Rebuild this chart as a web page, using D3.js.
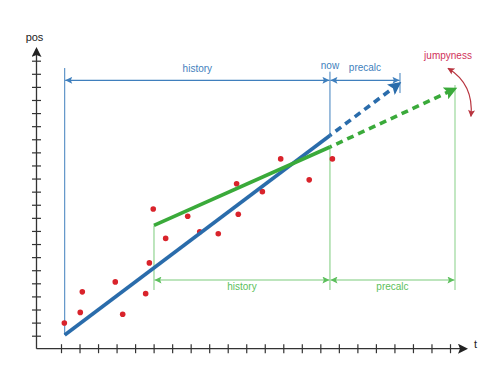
<!DOCTYPE html>
<html><head><meta charset="utf-8">
<script src="https://cdn.jsdelivr.net/npm/d3@7"></script>
<style>body{margin:0;background:#fff;}svg{display:block;font-family:"Liberation Sans",Arial,sans-serif;}</style>
</head><body><svg id="c" width="500" height="378"></svg>
<script>
// ---- data (in axis tick units) ----
const tickCount = 22;
const pointsT = [0.18,1.04,1.15,2.93,3.33,4.57,4.77,4.98,5.65,6.84,7.49,8.49,9.48,9.57,10.87,11.86,13.4,14.65];
const pointsP = [0.97,1.78,3.35,4.11,1.64,3.21,5.56,9.67,7.43,9.12,7.94,7.79,11.6,9.27,11.0,13.5,11.9,13.5];
const tHistStart = 0.2, tNow = 14.52, tBlueEnd = 18.3, tGreenStart = 5.02, tGreenEnd = 21.27;
const blueFit = [[0.2,0.05],[14.52,15.29]];
const blueForecast = [[14.52,15.29],[18.2,19.2]];
const greenFit = [[5.02,8.42],[14.52,14.41]];
const greenForecast = [[14.52,14.41],[21.2,18.8]];
const blueDimP = 19.5, greenDimP = 4.25, greenBaseP = 3.49;
const labels = {axisY:"pos", axisX:"t", history:"history", now:"now", precalc:"precalc", jump:"jumpyness"};
const jumpArc = [[21.27,20.5],[22.3,19.2],[22.13,16.75]];

// ---- scales ----
const x = d3.scaleLinear().domain([0,21]).range([61,450]);
const y = d3.scaleLinear().domain([0,21]).range([335.7,60.7]);
const svg = d3.select("#c");
const X0 = 36.5, Y0 = 348.7;

const defs = svg.append("defs");
function marker(id,color,w,h,refX){
  defs.append("marker").attr("id",id).attr("viewBox","0 0 10 10").attr("refX",refX).attr("refY",5)
    .attr("markerWidth",w).attr("markerHeight",h).attr("markerUnits","userSpaceOnUse").attr("orient","auto-start-reverse")
    .append("path").attr("d","M0,0 L10,5 L0,10 L2,5 Z").attr("fill",color);
}
marker("axArrow","#222",13,10,8);
marker("blueSmall","#3f7fbd",8,7,10);
marker("greenSmall","#5cbf5c",8,7,10);
marker("blueBig","#2a6cab",14,13,7);
marker("greenBig","#3aaa3a",14,13,7);
marker("redSmall","#b8343f",8,7,9);

// ---- axes ----
svg.append("line").attr("x1",X0).attr("x2",466).attr("y1",Y0).attr("y2",Y0)
  .attr("stroke","#333").attr("stroke-width",1.3).attr("marker-end","url(#axArrow)");
svg.append("line").attr("x1",X0).attr("x2",X0).attr("y1",Y0).attr("y2",49)
  .attr("stroke","#333").attr("stroke-width",1.3).attr("marker-end","url(#axArrow)");
const xa = svg.append("g").attr("transform",`translate(0,${Y0})`)
  .call(d3.axisBottom(x).tickValues(d3.range(tickCount)).tickSize(9).tickFormat(""));
xa.select(".domain").remove();
xa.selectAll(".tick line").attr("y1",-4.5).attr("y2",4.5).attr("stroke","#333").attr("stroke-width",1.2);
const ya = svg.append("g").attr("transform",`translate(${X0},0)`)
  .call(d3.axisLeft(y).tickValues(d3.range(tickCount)).tickSize(9).tickFormat(""));
ya.select(".domain").remove();
ya.selectAll(".tick line").attr("x1",-4.5).attr("x2",4.5).attr("stroke","#333").attr("stroke-width",1.2);
svg.append("text").attr("x",X0-2).attr("y",41).attr("text-anchor","middle").attr("font-size",11).attr("fill","#222").text(labels.axisY);
svg.append("text").attr("x",474).attr("y",348).attr("text-anchor","start").attr("font-size",11).attr("fill","#222").text(labels.axisX);

// ---- blue annotations ----
const blueA = "#3f7fbd", greenA = "#7ccb7c";
function vline(t,p1,p2,c,w){svg.append("line").attr("x1",x(t)).attr("x2",x(t)).attr("y1",y(p1)).attr("y2",y(p2)).attr("stroke",c).attr("stroke-width",w||1);}
function dim(t1,t2,p,c,m){svg.append("line").attr("x1",x(t1)+0.5).attr("x2",x(t2)-0.5).attr("y1",y(p)).attr("y2",y(p)).attr("stroke",c).attr("stroke-width",1.1)
  .attr("marker-start",`url(#${m})`).attr("marker-end",`url(#${m})`);}
vline(tHistStart,20.44,blueFit[0][1],blueA);
vline(tNow,20.16,blueFit[1][1],blueA);
vline(tBlueEnd,20.06,18.53,blueA);
dim(tHistStart,tNow,blueDimP,blueA,"blueSmall");
dim(tNow,tBlueEnd,blueDimP,blueA,"blueSmall");
svg.append("text").attr("x",(x(tHistStart)+x(tNow))/2).attr("y",y(blueDimP)-8).attr("text-anchor","middle").attr("font-size",10).attr("fill",blueA).text(labels.history);
svg.append("text").attr("x",x(tNow)).attr("y",y(blueDimP)-11.5).attr("text-anchor","middle").attr("font-size",10).attr("fill",blueA).text(labels.now);
svg.append("text").attr("x",(x(tNow)+x(tBlueEnd))/2).attr("y",y(blueDimP)-9).attr("text-anchor","middle").attr("font-size",10).attr("fill",blueA).text(labels.precalc);

// ---- green annotations ----
vline(tGreenStart,greenFit[0][1],greenBaseP,greenA);
vline(tNow,greenFit[1][1],greenBaseP,greenA);
vline(tGreenEnd,19.14,greenBaseP,"#9bd89b",1.2);
dim(tGreenStart,tNow,greenDimP,greenA,"greenSmall");
dim(tNow,tGreenEnd,greenDimP,greenA,"greenSmall");
svg.append("text").attr("x",(x(tGreenStart)+x(tNow))/2).attr("y",y(greenDimP)+10).attr("text-anchor","middle").attr("font-size",10).attr("fill","#5cbf5c").text(labels.history);
svg.append("text").attr("x",(x(tNow)+x(tGreenEnd))/2).attr("y",y(greenDimP)+9.5).attr("text-anchor","middle").attr("font-size",10).attr("fill","#5cbf5c").text(labels.precalc);

// ---- points ----
svg.append("g").selectAll("circle").data(pointsT).join("circle")
  .attr("cx",(d)=>x(d)).attr("cy",(d,i)=>y(pointsP[i])).attr("r",2.8).attr("fill","#d9232b");

// ---- fits ----
const dashPat = "2 5 " + d3.range(20).map(()=> "7 5").join(" ");
const ln = d3.line().x(d=>x(d[0])).y(d=>y(d[1]));
svg.append("path").attr("d",ln(blueFit)).attr("stroke","#2a6cab").attr("stroke-width",3.6).attr("fill","none");
svg.append("path").attr("d",ln(greenFit)).attr("stroke","#3aaa3a").attr("stroke-width",3.6).attr("fill","none");
svg.append("path").attr("d",ln(blueForecast)).attr("stroke","#2a6cab").attr("stroke-width",3.6).attr("fill","none")
  .attr("stroke-dasharray",dashPat).attr("marker-end","url(#blueBig)");
svg.append("path").attr("d",ln(greenForecast)).attr("stroke","#3aaa3a").attr("stroke-width",3.6).attr("fill","none")
  .attr("stroke-dasharray",dashPat).attr("marker-end","url(#greenBig)");

// ---- jumpyness ----
svg.append("path").attr("d",`M${x(jumpArc[0][0])-7},${y(jumpArc[0][1])+1} Q${x(jumpArc[1][0])},${y(jumpArc[1][1])} ${x(jumpArc[2][0])},${y(jumpArc[2][1])}`)
  .attr("stroke","#b8343f").attr("stroke-width",1.2).attr("fill","none")
  .attr("marker-start","url(#redSmall)").attr("marker-end","url(#redSmall)");
svg.append("text").attr("x",448).attr("y",59).attr("text-anchor","middle").attr("font-size",10).attr("fill","#d0325a").text(labels.jump);
</script></body></html>
